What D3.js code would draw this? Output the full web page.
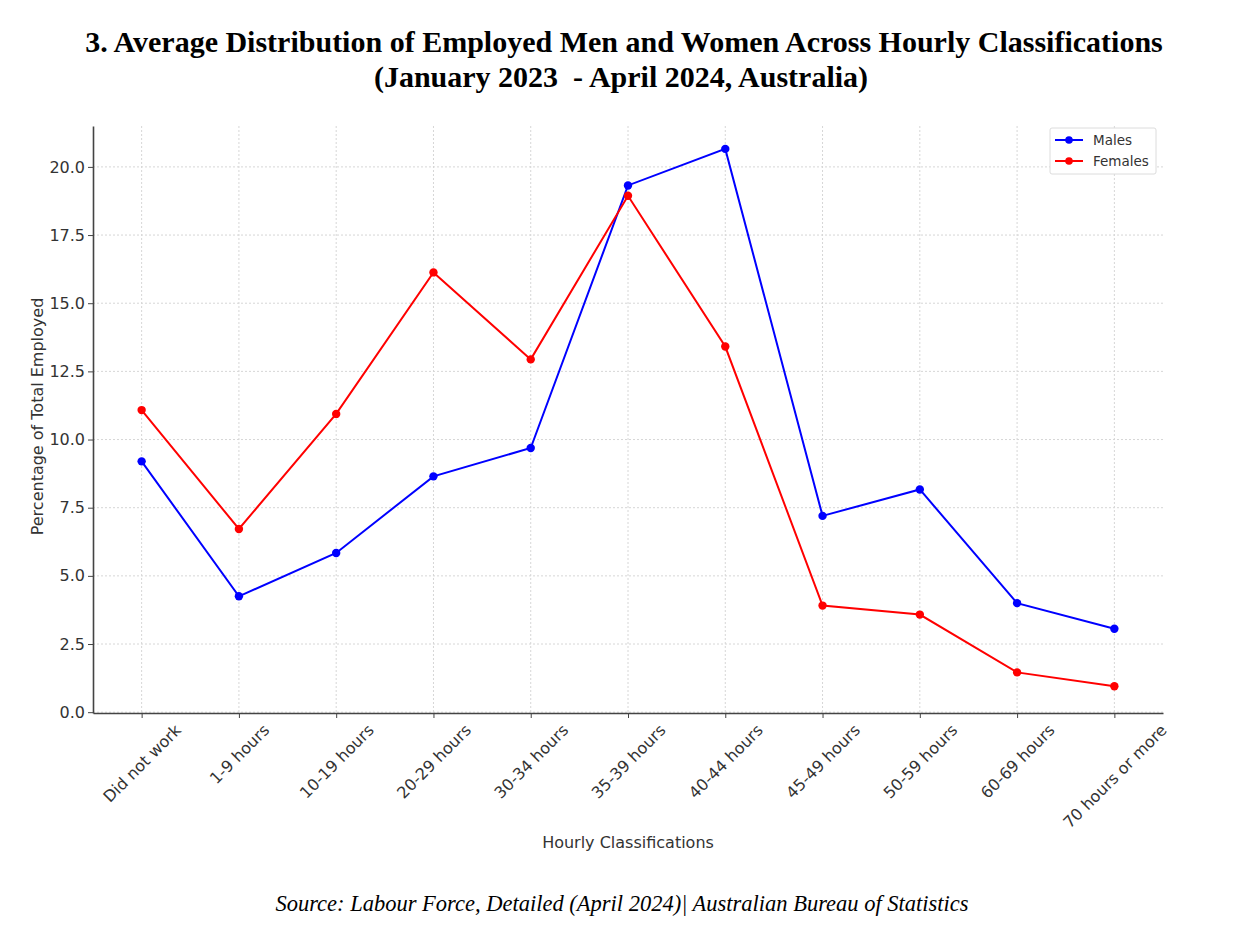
<!DOCTYPE html>
<html>
<head>
<meta charset="utf-8">
<script src="https://cdn.jsdelivr.net/npm/d3@7"></script>
<style>
  body { margin: 0; background: #fff; }
  svg { display: block; }
</style>
</head>
<body>
<div id="chart"></div>
<script>
// data
var categories = ["Did not work", "1-9 hours", "10-19 hours", "20-29 hours", "30-34 hours",
  "35-39 hours", "40-44 hours", "45-49 hours", "50-59 hours", "60-69 hours", "70 hours or more"];
var males   = [9.20, 4.25, 5.84, 8.65, 9.69, 19.32, 20.66, 7.20, 8.17, 4.00, 3.06];
var females = [11.08, 6.72, 10.94, 16.13, 12.94, 18.94, 13.41, 3.91, 3.58, 1.46, 0.95];
var yTicks = [0, 2.5, 5, 7.5, 10, 12.5, 15, 17.5, 20];

var series = [
  {name: "Males", values: males, color: "#0000ff"},
  {name: "Females", values: females, color: "#ff0000"}
];

// set the dimensions and margins of the graph
var W = 1250, H = 942;
var margin = {top: 126, right: 87, bottom: 229, left: 93},
    width = W - margin.left - margin.right,
    height = H - margin.top - margin.bottom;

var root = d3.select("#chart")
  .append("svg")
    .attr("width", W)
    .attr("height", H);

var svg = root.append("g")
    .attr("transform", "translate(" + margin.left + "," + margin.top + ")");

// scales
var x = d3.scaleLinear()
  .domain([-0.5, categories.length - 0.5])
  .range([0, width]);

var y = d3.scaleLinear()
  .domain([-0.03, 21.5])
  .range([height, 0]);

// grid
svg.append("g")
  .selectAll("line")
  .data(yTicks)
  .enter()
  .append("line")
    .attr("x1", 0).attr("x2", width)
    .attr("y1", function(d) { return y(d); })
    .attr("y2", function(d) { return y(d); })
    .attr("stroke", "#d6d6d6")
    .attr("stroke-dasharray", "2,2");

svg.append("g")
  .selectAll("line")
  .data(categories)
  .enter()
  .append("line")
    .attr("x1", function(d, i) { return x(i); })
    .attr("x2", function(d, i) { return x(i); })
    .attr("y1", 0).attr("y2", height)
    .attr("stroke", "#d6d6d6")
    .attr("stroke-dasharray", "2,2");

// X axis
var xAxis = svg.append("g")
  .attr("transform", "translate(0," + height + ")")
  .call(d3.axisBottom(x)
    .tickValues(d3.range(categories.length))
    .tickFormat(function(i) { return categories[i]; })
    .tickSize(5)
    .tickSizeOuter(0));

// Y axis
var yAxis = svg.append("g")
  .call(d3.axisLeft(y)
    .tickValues(yTicks)
    .tickFormat(d3.format(".1f"))
    .tickSize(5)
    .tickSizeOuter(0));

[xAxis, yAxis].forEach(function(a) {
  a.select(".domain").attr("stroke", "#444").attr("stroke-width", 1.6);
  a.selectAll(".tick line").attr("stroke", "#444");
  a.selectAll(".tick text")
    .attr("fill", "#333")
    .style("font-family", "DejaVu Sans")
    .style("font-size", "16px");
});

// rotated labels, box centred under the tick (like ha='center')
xAxis.selectAll(".tick text")
  .style("text-anchor", "middle")
  .attr("y", 0)
  .attr("dy", "0.35em")
  .attr("transform", function() {
    var L = this.getComputedTextLength();
    var off = 10 + (L + 12) / (2 * Math.SQRT2);
    return "translate(0," + off + ")rotate(-45)";
  });

// lines + markers
var line = d3.line()
  .x(function(d, i) { return x(i); })
  .y(function(d) { return y(d); });

series.forEach(function(s) {
  svg.append("path")
    .datum(s.values)
    .attr("fill", "none")
    .attr("stroke", s.color)
    .attr("stroke-width", 2)
    .attr("d", line);

  svg.selectAll(".dot-" + s.name)
    .data(s.values)
    .enter()
    .append("circle")
      .attr("cx", function(d, i) { return x(i); })
      .attr("cy", function(d) { return y(d); })
      .attr("r", 4.2)
      .attr("fill", s.color);
});

// legend
var legend = svg.append("g")
  .attr("transform", "translate(" + (width - 113) + ",2)");

legend.append("rect")
  .attr("width", 106).attr("height", 46)
  .attr("rx", 2)
  .attr("fill", "#fff")
  .attr("stroke", "#dcdcdc");

series.forEach(function(s, i) {
  var g = legend.append("g").attr("transform", "translate(5," + (12 + i * 21) + ")");
  g.append("line").attr("x1", 0).attr("x2", 28).attr("stroke", s.color).attr("stroke-width", 2);
  g.append("circle").attr("cx", 14).attr("r", 3.8).attr("fill", s.color);
  g.append("text")
    .attr("x", 38).attr("y", 4.5)
    .style("font-family", "DejaVu Sans")
    .style("font-size", "13.5px")
    .attr("fill", "#333")
    .text(s.name);
});

// axis labels
root.append("text")
  .attr("x", margin.left + width / 2)
  .attr("y", 848)
  .attr("text-anchor", "middle")
  .style("font-family", "DejaVu Sans")
  .style("font-size", "16px")
  .attr("fill", "#333")
  .text("Hourly Classifications");

root.append("text")
  .attr("transform", "translate(43," + (margin.top + height / 2 - 3) + ")rotate(-90)")
  .attr("text-anchor", "middle")
  .style("font-family", "DejaVu Sans")
  .style("font-size", "16px")
  .attr("fill", "#333")
  .text("Percentage of Total Employed");

// title
var title = root.append("text")
  .attr("text-anchor", "middle")
  .style("font-family", "Liberation Serif")
  .style("font-weight", "bold")
  .style("font-size", "30px")
  .attr("fill", "#000");
title.append("tspan").attr("x", 624).attr("y", 52)
  .text("3. Average Distribution of Employed Men and Women Across Hourly Classifications");
title.append("tspan").attr("x", 621).attr("y", 87)
  .attr("xml:space", "preserve")
  .style("white-space", "pre")
  .text("(January 2023  - April 2024, Australia)");

// source
root.append("text")
  .attr("x", 622)
  .attr("y", 911)
  .attr("text-anchor", "middle")
  .style("font-family", "Liberation Serif")
  .style("font-style", "italic")
  .style("font-size", "22.5px")
  .attr("fill", "#000")
  .text("Source: Labour Force, Detailed (April 2024)| Australian Bureau of Statistics");
</script>
</body>
</html>
